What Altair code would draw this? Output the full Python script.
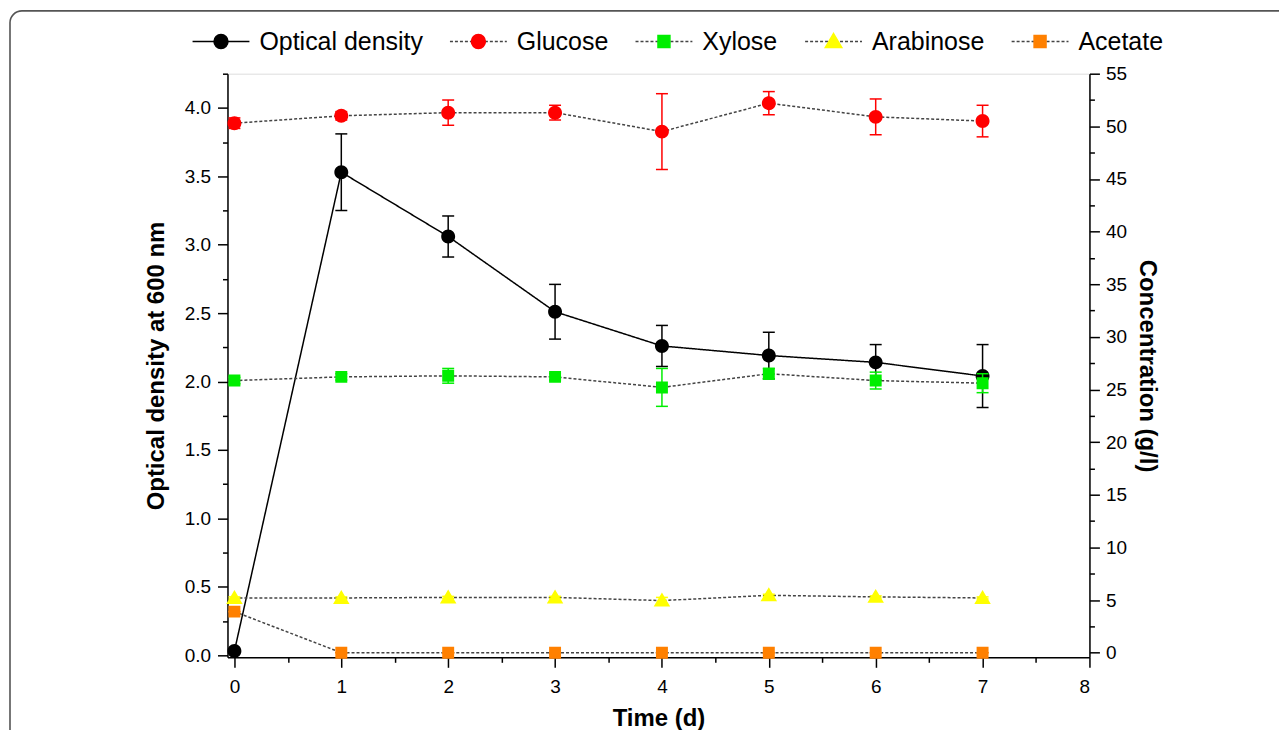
import altair as alt
import pandas as pd

# ---------------- data ----------------
days = [0, 1, 2, 3, 4, 5, 6, 7]
series_names = ["Optical density", "Glucose", "Xylose", "Arabinose", "Acetate"]
series_colors = ["#000000", "#ff0000", "#00ee00", "#ffff00", "#ff8000"]

od = [0.03, 3.53, 3.06, 2.51, 2.26, 2.19, 2.14, 2.04]
od_err = [0.0, 0.28, 0.15, 0.20, 0.15, 0.17, 0.13, 0.23]

glucose = [50.3, 51.0, 51.3, 51.3, 49.5, 52.2, 50.9, 50.5]
glucose_err = [0.5, 0.4, 1.2, 0.7, 3.6, 1.1, 1.7, 1.5]
xylose = [25.85, 26.2, 26.3, 26.2, 25.2, 26.5, 25.85, 25.6]
xylose_err = [0.3, 0.3, 0.7, 0.3, 1.8, 0.5, 0.8, 0.9]
arabinose = [5.2, 5.2, 5.25, 5.25, 4.95, 5.45, 5.3, 5.2]
arabinose_err = [0.1, 0.1, 0.1, 0.1, 0.3, 0.1, 0.1, 0.1]
acetate = [3.9, 0.0, 0.0, 0.0, 0.0, 0.0, 0.0, 0.0]
acetate_err = [0.0, 0.0, 0.0, 0.0, 0.0, 0.0, 0.0, 0.0]

FONT = "Liberation Sans"
SW = 1.5  # common stroke width (lines, legend symbols)


def frame(name, vals, errs):
    return pd.DataFrame({
        "t": days,
        "series": name,
        "series_l": name + "_",
        "value": vals,
        "lo": [v - e for v, e in zip(vals, errs)],
        "hi": [v + e for v, e in zip(vals, errs)],
    })


od_df = frame("Optical density", od, od_err)
conc_df = pd.concat([
    frame("Glucose", glucose, glucose_err),
    frame("Xylose", xylose, xylose_err),
    frame("Arabinose", arabinose, arabinose_err),
    frame("Acetate", acetate, acetate_err),
], ignore_index=True)

# ---------------- scales / legends ----------------
SYM = 3249  # 57 px legend symbol box
# zero-length end points keep the symbol's bounds as wide as the line legend
extent = "M-1,0L-1,0M1,0L1,0"
circle = extent + "M0,-0.245A0.245,0.245 0 1,1 0,0.245A0.245,0.245 0 1,1 0,-0.245Z"
square = extent + "M-0.21,-0.21H0.21V0.21H-0.21Z"
triangle = extent + "M0,-0.28L0.29,0.21L-0.29,0.21Z"

legend_common = dict(
    orient="none", legendX=-36, legendY=-62, direction="horizontal",
    title=None, symbolSize=SYM, labelFont=FONT, labelFontSize=25,
    labelColor="#000000", labelOffset=9, columnPadding=24, padding=0,
    symbolStrokeWidth=SW, labelLimit=400,
    labelExpr="replace(datum.label, '_', '')",
)

color_scale = alt.Scale(domain=series_names, range=series_colors)
shape_scale = alt.Scale(domain=series_names, range=[circle, circle, square, triangle, square])
line_domain = [n + "_" for n in series_names]
stroke_scale = alt.Scale(domain=line_domain, range=["#000000", "#444444", "#444444", "#444444", "#444444"])
dash_scale = alt.Scale(domain=line_domain, range=[[1, 0], [3, 2], [3, 2], [3, 2], [3, 2]])

legend_markers = alt.Legend(**legend_common)
legend_lines = alt.Legend(symbolType="stroke", labelOpacity=0, **legend_common)

color_enc = alt.Color("series:N", scale=color_scale, legend=legend_markers)
shape_enc = alt.Shape("series:N", scale=shape_scale, legend=legend_markers)
stroke_enc = alt.Stroke("series_l:N", scale=stroke_scale, legend=legend_lines)
dash_enc = alt.StrokeDash("series_l:N", scale=dash_scale, legend=legend_lines)

# ---------------- axes ----------------
axis_style = dict(
    grid=False, labelFont=FONT, labelFontSize=19, titleFont=FONT, titleFontSize=24,
    titleFontWeight="bold", domainColor="#000", tickColor="#000",
    labelColor="#000", titleColor="#000", domainWidth=1.5, tickWidth=1.5,
    labelOverlap=False,
)

x_vals = [i * 0.5 for i in range(17)]
x_enc = alt.X(
    "t:Q",
    scale=alt.Scale(domain=[-0.065, 8], nice=False, zero=False),
    axis=alt.Axis(
        title="Time (d)", values=x_vals,
        labelExpr="datum.value % 1 === 0 ? format(datum.value, 'd') : ''",
        tickSize={"condition": {"test": "datum.value % 1 === 0", "value": 10}, "value": 5},
        labelPadding=10, titlePadding=10, **axis_style,
    ),
)

left_vals = [i * 0.25 for i in range(18)]
left_axis = alt.Axis(
    title="Optical density at 600 nm", values=left_vals, orient="left",
    labelExpr="datum.value % 0.5 === 0 ? format(datum.value, '.1f') : ''",
    tickSize={"condition": {"test": "datum.value % 0.5 === 0", "value": 10}, "value": 5},
    labelPadding=7, titlePadding=16, **axis_style,
)
left_scale = alt.Scale(domain=[-0.016, 4.25], nice=False, zero=False)

right_vals = [i * 2.5 for i in range(23)]
right_axis = alt.Axis(
    title="Concentration (g/l)", values=right_vals, orient="right",
    labelExpr="datum.value % 5 === 0 ? format(datum.value, 'd') : ''",
    tickSize={"condition": {"test": "datum.value % 5 === 0", "value": 10}, "value": 5},
    labelPadding=6, titlePadding=8, **axis_style,
)
right_scale = alt.Scale(domain=[-0.44, 55], nice=False, zero=False)


def series_layer(df, title, axis, scale):
    yv = alt.Y("value:Q", title=title, axis=axis, scale=scale)
    ylo = alt.Y("lo:Q", title=title, axis=axis, scale=scale)
    yhi = alt.Y("hi:Q", title=title, axis=axis, scale=scale)
    base = alt.Chart(df)
    line = base.mark_line(strokeWidth=SW).encode(
        x=x_enc, y=yv, stroke=stroke_enc, strokeDash=dash_enc, detail="series:N")
    rule = base.mark_rule(strokeWidth=1.5).encode(
        x=x_enc, y=ylo, y2="hi:Q", color=color_enc)
    cap_lo = base.mark_tick(orient="horizontal", size=12, thickness=1.5, opacity=1).encode(
        x=x_enc, y=ylo, color=color_enc)
    cap_hi = base.mark_tick(orient="horizontal", size=12, thickness=1.5, opacity=1).encode(
        x=x_enc, y=yhi, color=color_enc)
    pts = base.mark_point(filled=True, size=SYM, opacity=1, strokeWidth=SW).encode(
        x=x_enc, y=yv, color=color_enc, shape=shape_enc)
    return alt.layer(line, rule, cap_lo, cap_hi, pts)


od_layer = series_layer(od_df, "Optical density at 600 nm", left_axis, left_scale)
conc_layer = series_layer(conc_df, "Concentration (g/l)", right_axis, right_scale)

border = alt.Chart(pd.DataFrame({"a": [0]})).mark_rect(
    fill=None, stroke="#555555", strokeWidth=1.6, cornerRadius=12
).encode(x=alt.value(-218), x2=alt.value(1150), y=alt.value(-63), y2=alt.value(720))

chart = alt.layer(od_layer, conc_layer, border).resolve_scale(y="independent").properties(
    width=864, height=585,
    autosize=alt.AutoSizeParams(type="none"),
    padding={"left": 220, "top": 65, "right": 190, "bottom": 72},
).configure_view(stroke=None).configure(background="white")

chart.save("out.html", embed_options={"renderer": "svg", "actions": False})
